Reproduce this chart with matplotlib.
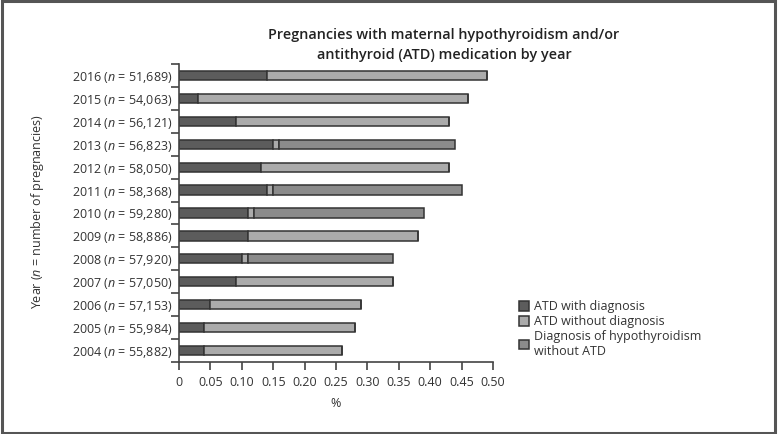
import matplotlib
matplotlib.use("Agg")
import matplotlib.pyplot as plt
import numpy as np
from matplotlib.patches import Rectangle

plt.rcParams['font.family'] = ['Open Sans', 'DejaVu Sans']
plt.rcParams['mathtext.fontset'] = 'custom'
plt.rcParams['mathtext.it'] = 'Open Sans:italic'
plt.rcParams['mathtext.rm'] = 'Open Sans'

years = ["2004", "2005", "2006", "2007", "2008", "2009", "2010",
         "2011", "2012", "2013", "2014", "2015", "2016"]
n_preg = ["55,882", "55,984", "57,153", "57,050", "57,920", "58,886", "59,280",
          "58,368", "58,050", "56,823", "56,121", "54,063", "51,689"]

atd_with_diag = [0.04, 0.04, 0.05, 0.09, 0.10, 0.11, 0.11, 0.14, 0.13, 0.15, 0.09, 0.03, 0.14]
atd_without_diag = [0.22, 0.24, 0.24, 0.25, 0.01, 0.27, 0.01, 0.01, 0.30, 0.01, 0.34, 0.43, 0.35]
diag_without_atd = [0.00, 0.00, 0.00, 0.00, 0.23, 0.00, 0.27, 0.30, 0.00, 0.28, 0.00, 0.00, 0.00]

series_names = ["ATD with diagnosis", "ATD without diagnosis",
                "Diagnosis of hypothyroidism\nwithout ATD"]
colors = ["#5c5c5c", "#ababab", "#8b8b8b"]

W, H = 778, 434
fig = plt.figure(figsize=(W / 100, H / 100), dpi=100)
ax = fig.add_axes([179 / W, 1 - 362 / H, 314 / W, 298 / H])

y = np.arange(len(years))
left = np.zeros(len(years))
handles = []
for vals, c, name in zip([atd_with_diag, atd_without_diag, diag_without_atd], colors, series_names):
    v = np.array(vals)
    b = ax.barh(y, v, left=left, height=0.4, color=c, edgecolor="#333333", linewidth=1.1, label=name)
    handles.append(b)
    left = left + v

ax.set_ylim(-0.5, len(years) - 0.5)
ax.set_xlim(0, 0.5)
ax.set_xticks(np.arange(0, 0.501, 0.05))
ax.set_xticklabels(["0"] + [f"{t:.2f}" for t in np.arange(0.05, 0.501, 0.05)])
ax.set_yticks(y)
ax.set_yticklabels([f"{yr} ($n$ = {nn})" for yr, nn in zip(years, n_preg)])
ax.set_yticks(np.arange(-0.5, len(years), 1.0), minor=True)
ax.tick_params(axis="y", which="major", length=0, pad=5, labelsize=9, labelcolor="#333333")
ax.tick_params(axis="y", which="minor", length=6, width=1.2, color="#444444", direction="out")
ax.tick_params(axis="x", which="major", length=6, width=1.2, color="#444444", labelsize=9,
               labelcolor="#333333", pad=4)
for s in ["top", "right"]:
    ax.spines[s].set_visible(False)
for s in ["left", "bottom"]:
    ax.spines[s].set_color("#444444")
    ax.spines[s].set_linewidth(1.2)

ax.set_xlabel("%", fontsize=9, color="#333333", labelpad=6)
fig.text(38 / W, 1 - 212 / H, "Year ($n$ = number of pregnancies)", rotation=90,
         ha="center", va="center", fontsize=9, color="#333333")

fig.text(444 / W, 1 - 45 / H,
         "Pregnancies with maternal hypothyroidism and/or\nantithyroid (ATD) medication by year",
         ha="center", va="center", fontsize=10.4, fontweight="semibold", color="#222222",
         linespacing=1.55)

leg = fig.legend(handles=handles, labels=series_names, loc="upper left",
                 bbox_to_anchor=(513 / W, 1 - 294 / H), frameon=False, fontsize=9,
                 handlelength=0.8, handleheight=0.8, handletextpad=0.4,
                 labelspacing=0.15, borderpad=0, labelcolor="#333333")

fig.patches.append(Rectangle((0.002, 0.003), 0.994, 0.994, transform=fig.transFigure,
                             fill=False, edgecolor="#555555", linewidth=2.2))

fig.savefig("out.png", dpi=100)
